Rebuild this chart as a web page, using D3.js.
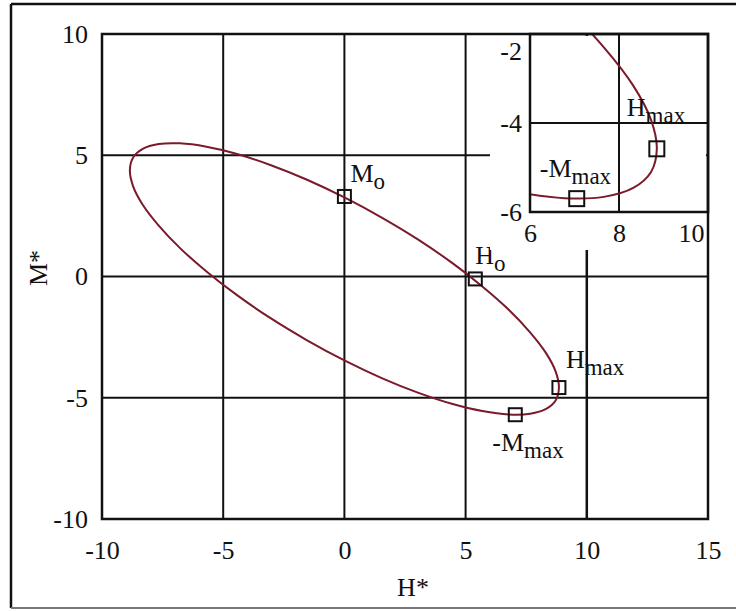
<!DOCTYPE html>
<html>
<head>
<meta charset="utf-8">
<script src="https://cdn.jsdelivr.net/npm/d3@7"></script>
<style>
  body { margin: 0; background: #fff; }
  svg text { font-family: "Liberation Serif", "DejaVu Serif", serif; fill: #111; }
</style>
</head>
<body>
<div id="chart"></div>
<script>
// loop (H*, M*)
const loopH = [8.85, 8.72, 8.32, 7.66, 6.78, 5.69, 4.43, 3.03, 1.54, 0,
    -1.54, -3.03, -4.43, -5.69, -6.78, -7.66, -8.32, -8.72, -8.85, -8.72,
    -8.32, -7.66, -6.78, -5.69, -4.43, -3.03, -1.54, 0, 1.54, 3.03,
    4.43, 5.69, 6.78, 7.66, 8.32, 8.72];
const loopM = [-4.58, -3.93, -3.16, -2.30, -1.37, -0.41, 0.57, 1.53, 2.43, 3.26,
    3.99, 4.59, 5.05, 5.35, 5.49, 5.46, 5.26, 4.90, 4.38, 3.73,
    2.96, 2.10, 1.17, 0.21, -0.77, -1.73, -2.63, -3.46, -4.19, -4.79,
    -5.25, -5.55, -5.69, -5.66, -5.46, -5.10];

// marked points
const markerNames = ["Mo", "Ho", "Hmax", "-Mmax"];
const markerH = [0, 5.4, 8.85, 7.05];
const markerM = [3.3, -0.1, -4.58, -5.7];

// tick labels
const hTicks = [-10, -5, 0, 5, 10, 15];
const mTicks = [-10, -5, 0, 5, 10];
const insetHTicks = [6, 8, 10];
const insetMTicks = [-6, -4, -2];

const width = 736, height = 611;
const curveColor = "#7a1a2a";
const fmt = d => String(d);   // plain hyphen, no decimals

const svg = d3.select("#chart").append("svg")
    .attr("width", width)
    .attr("height", height);

// outer frame
svg.append("line").attr("x1", 11).attr("y1", 4).attr("x2", 11).attr("y2", 608)
    .attr("stroke", "#111").attr("stroke-width", 2.5);
svg.append("line").attr("x1", 11).attr("y1", 4).attr("x2", 736).attr("y2", 4)
    .attr("stroke", "#111").attr("stroke-width", 2.5);
svg.append("line").attr("x1", 11).attr("y1", 608).attr("x2", 736).attr("y2", 608)
    .attr("stroke", "#777").attr("stroke-width", 2);

const loop = loopH.map((h, i) => ({ h: h, m: loopM[i] }));
const markers = markerNames.map((n, i) => ({ name: n, h: markerH[i], m: markerM[i] }));

// ---------- main plot ----------
const x = d3.scaleLinear().domain([-10, 15]).range([102, 708]);
const y = d3.scaleLinear().domain([-10, 10]).range([519, 34]);

const main = svg.append("g");

main.selectAll(".vgrid")
    .data([-5, 0, 5])
    .enter().append("line")
    .attr("x1", d => x(d)).attr("x2", d => x(d))
    .attr("y1", y(10)).attr("y2", y(-10))
    .attr("stroke", "#111").attr("stroke-width", 2);

main.selectAll(".hgrid")
    .data([5, 0, -5])
    .enter().append("line")
    .attr("x1", x(-10)).attr("x2", x(15))
    .attr("y1", d => y(d)).attr("y2", d => y(d))
    .attr("stroke", "#111").attr("stroke-width", 2);

main.append("line")
    .attr("x1", x(10)).attr("x2", x(10))
    .attr("y1", y(10)).attr("y2", y(-10))
    .attr("stroke", "#111").attr("stroke-width", 2.5);

const line = d3.line()
    .x(d => x(d.h))
    .y(d => y(d.m))
    .curve(d3.curveCatmullRomClosed);

main.append("path")
    .datum(loop)
    .attr("d", line)
    .attr("fill", "none")
    .attr("stroke", curveColor)
    .attr("stroke-width", 2);

const yAxis = main.append("g")
    .attr("transform", `translate(${x(-10)},0)`)
    .call(d3.axisLeft(y).tickValues(mTicks).tickFormat(fmt).tickSize(0).tickPadding(14));
const xAxis = main.append("g")
    .attr("transform", `translate(0,${y(-10)})`)
    .call(d3.axisBottom(x).tickValues(hTicks).tickFormat(fmt).tickSize(0).tickPadding(22));

[xAxis, yAxis].forEach(a => {
    a.select(".domain").remove();
    a.selectAll("text")
        .style("font-family", "Liberation Serif, serif")
        .style("font-size", "26px")
        .attr("fill", "#111");
});

svg.append("text")
    .attr("x", 413).attr("y", 596)
    .attr("text-anchor", "middle")
    .style("font-size", "26px")
    .text("H*");

svg.append("text")
    .attr("transform", "translate(47,268) rotate(-90)")
    .attr("text-anchor", "middle")
    .style("font-size", "26px")
    .text("M*");

function drawMarkers(g, xs, ys, size) {
    g.selectAll(".marker")
        .data(markers.filter(d => xs.domain()[0] <= d.h && d.h <= xs.domain()[1]
            && ys.domain()[0] <= d.m && d.m <= ys.domain()[1]))
        .enter().append("rect")
        .attr("x", d => xs(d.h) - size / 2)
        .attr("y", d => ys(d.m) - size / 2)
        .attr("width", size).attr("height", size)
        .attr("fill", "none")
        .attr("stroke", "#111")
        .attr("stroke-width", 2);
}

function addLabel(g, px, py, name) {
    const neg = name.startsWith("-");
    const letter = neg ? name.slice(0, 2) : name.slice(0, 1);
    const sub = name.slice(letter.length);
    const t = g.append("text")
        .attr("x", px).attr("y", py)
        .style("font-size", "26px");
    t.append("tspan").text(letter);
    t.append("tspan")
        .attr("dy", 7)
        .style("font-size", "23px")
        .text(sub);
}

drawMarkers(main, x, y, 13);

// label offsets from the marker centre, px
const mainLabelOffset = { "Mo": [6, -14], "Ho": [0, -15], "Hmax": [7, -20], "-Mmax": [-23, 36] };
markers.forEach(d => {
    const o = mainLabelOffset[d.name];
    addLabel(main, x(d.h) + o[0], y(d.m) + o[1], d.name);
});

// ---------- inset ----------
const ix = d3.scaleLinear().domain([6, 10]).range([530, 708]);
const iy = d3.scaleLinear().domain([-6, -2]).range([212, 34]);

const inset = svg.append("g");

// white patch behind the inset and its labels
inset.append("rect")
    .attr("x", 490).attr("y", 36)
    .attr("width", 706 - 490).attr("height", 250 - 36)
    .attr("fill", "#fff");

svg.append("defs").append("clipPath").attr("id", "inset-clip")
    .append("rect")
    .attr("x", ix(6)).attr("y", iy(-2))
    .attr("width", ix(10) - ix(6)).attr("height", iy(-6) - iy(-2));

inset.append("line")
    .attr("x1", ix(8)).attr("x2", ix(8))
    .attr("y1", iy(-2)).attr("y2", iy(-6))
    .attr("stroke", "#111").attr("stroke-width", 2);
inset.append("line")
    .attr("x1", ix(6)).attr("x2", ix(10))
    .attr("y1", iy(-4)).attr("y2", iy(-4))
    .attr("stroke", "#111").attr("stroke-width", 2);

const insetLine = d3.line()
    .x(d => ix(d.h))
    .y(d => iy(d.m))
    .curve(d3.curveCatmullRomClosed);

inset.append("path")
    .datum(loop)
    .attr("clip-path", "url(#inset-clip)")
    .attr("d", insetLine)
    .attr("fill", "none")
    .attr("stroke", curveColor)
    .attr("stroke-width", 2);

inset.append("rect")
    .attr("x", ix(6)).attr("y", iy(-2))
    .attr("width", ix(10) - ix(6)).attr("height", iy(-6) - iy(-2))
    .attr("fill", "none").attr("stroke", "#111").attr("stroke-width", 2.5);

// main frame drawn last so the inset patch does not cut it
main.append("rect")
    .attr("x", x(-10)).attr("y", y(10))
    .attr("width", x(15) - x(-10)).attr("height", y(-10) - y(10))
    .attr("fill", "none").attr("stroke", "#111").attr("stroke-width", 2.5);

const iyAxis = inset.append("g")
    .attr("transform", `translate(${ix(6)},0)`)
    .call(d3.axisLeft(iy).tickValues(insetMTicks).tickFormat(fmt).tickSize(0).tickPadding(8));
const ixAxis = inset.append("g")
    .attr("transform", `translate(0,${iy(-6)})`)
    .call(d3.axisBottom(ix).tickValues(insetHTicks).tickFormat(fmt).tickSize(0).tickPadding(12));

[ixAxis, iyAxis].forEach(a => {
    a.select(".domain").remove();
    a.selectAll("text")
        .style("font-family", "Liberation Serif, serif")
        .style("font-size", "26px")
        .attr("fill", "#111");
});
// top label sits lower, last one pulled inside the box
iyAxis.selectAll(".tick text").filter(d => d === -2).attr("dy", "0.32em").attr("y", 17);
ixAxis.selectAll(".tick text").filter(d => d === 10).attr("x", -17);

drawMarkers(inset, ix, iy, 15);

const insetLabelOffset = { "Hmax": [-30, -33], "-Mmax": [-37, -22] };
markers.filter(d => insetLabelOffset[d.name]).forEach(d => {
    const o = insetLabelOffset[d.name];
    addLabel(inset, ix(d.h) + o[0], iy(d.m) + o[1], d.name);
});
</script>
</body>
</html>
